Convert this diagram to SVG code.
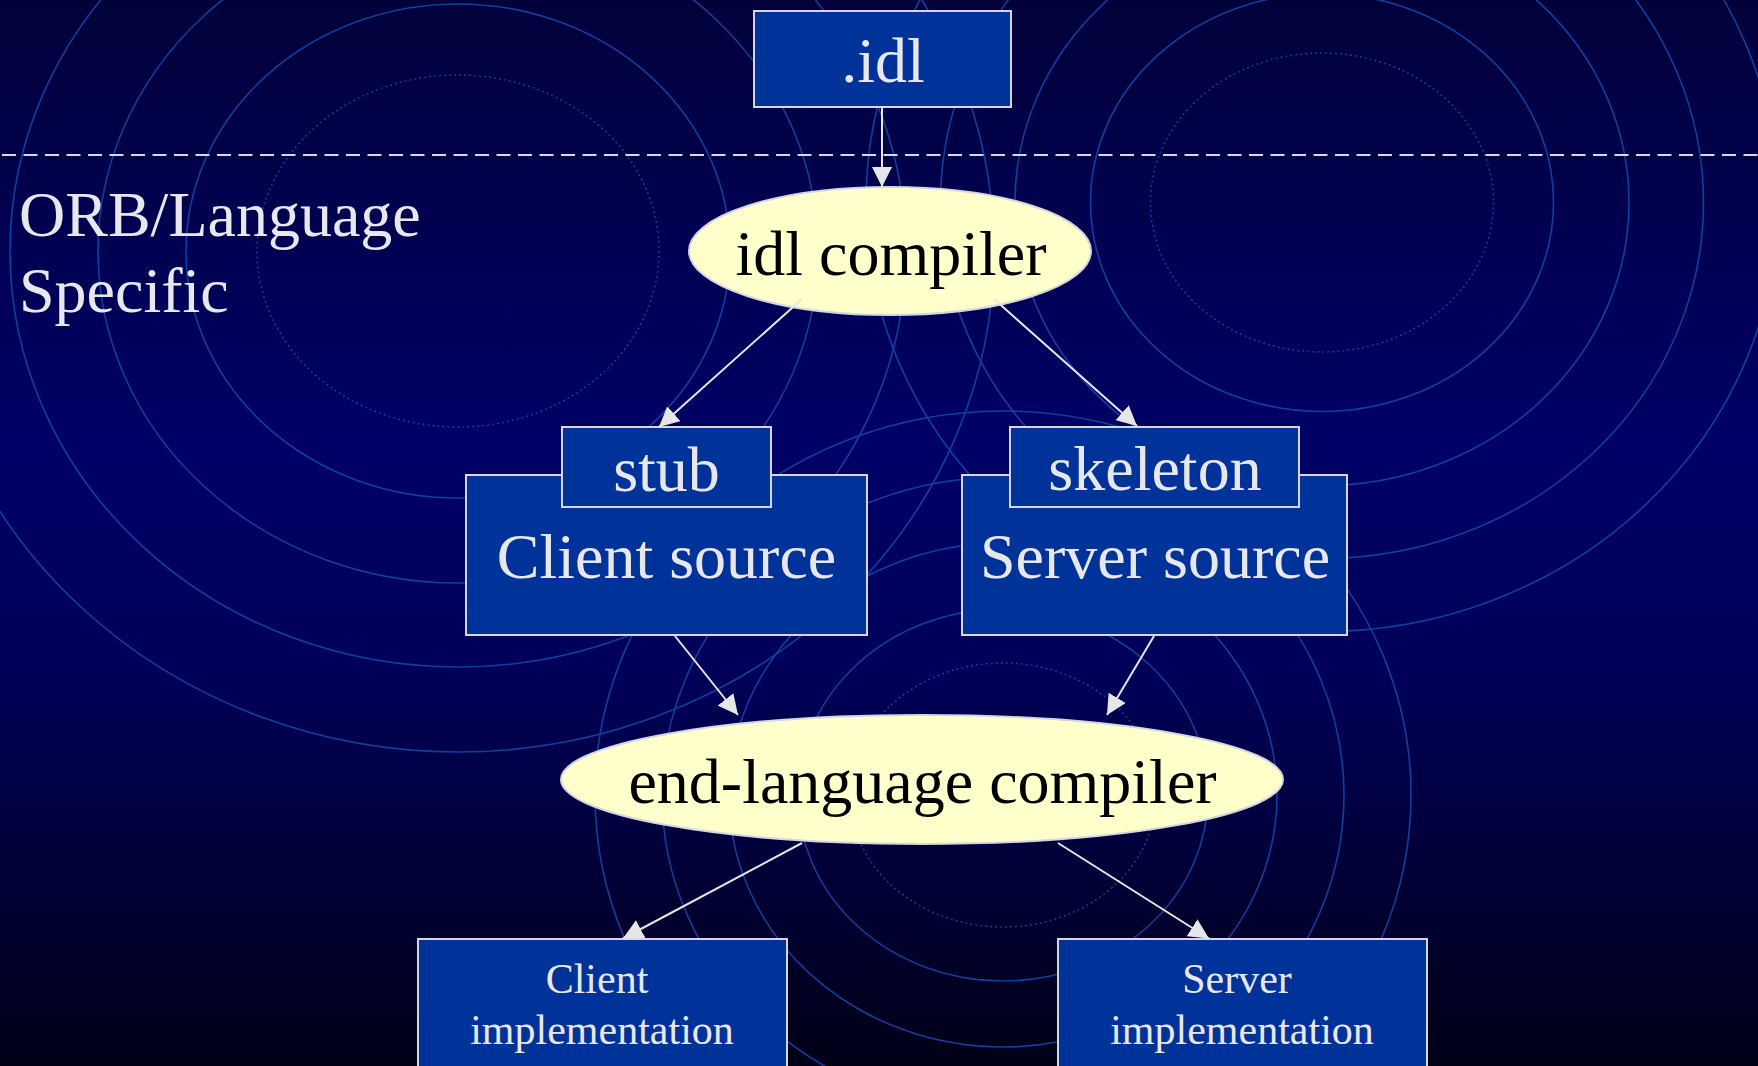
<svg xmlns="http://www.w3.org/2000/svg" width="1758" height="1066" viewBox="0 0 1758 1066">
  <defs>
    <linearGradient id="bg" x1="0" y1="0" x2="0" y2="1">
      <stop offset="0" stop-color="#01013a"/>
      <stop offset="0.42" stop-color="#000066"/>
      <stop offset="0.62" stop-color="#00005a"/>
      <stop offset="1" stop-color="#000016"/>
    </linearGradient>
    <marker id="ah" markerUnits="userSpaceOnUse" markerWidth="20" markerHeight="20" refX="20" refY="10" orient="auto">
      <path d="M0,0 L20,10 L0,20 z" fill="#e6e6e6"/>
    </marker>
    <style>
      .ring { fill: none; stroke: #0f3f9f; stroke-width: 1.6; }
      .dot { fill: none; stroke: #0f3f9f; stroke-width: 1.5; stroke-dasharray: 2 3; }
      .box { fill: #003399; stroke: #d6d6e2; stroke-width: 2; }
      .oval { fill: #ffffcc; stroke: #d6d6e2; stroke-width: 2; }
      .lt { font-family: "Liberation Serif", "Times New Roman", serif; fill: #e8e8ec; text-anchor: middle; }
      .dk { font-family: "Liberation Serif", "Times New Roman", serif; fill: #000000; text-anchor: middle; font-size: 64px; }
      .big { font-size: 64px; }
      .sm { font-size: 42px; }
      .edge { fill: none; stroke: #e6e6e6; stroke-width: 2; marker-end: url(#ah); }
    </style>
  </defs>

  <g id="background">
    <rect x="0" y="0" width="1758" height="1066" fill="url(#bg)"/>
    <g id="rings-left">
      <ellipse class="dot" cx="458" cy="251" rx="201" ry="176"/>
      <ellipse class="ring" cx="458" cy="251" rx="272" ry="247"/>
      <ellipse class="ring" cx="458" cy="251" rx="360" ry="332"/>
      <ellipse class="ring" cx="458" cy="251" rx="448" ry="416"/>
      <ellipse class="ring" cx="458" cy="251" rx="536" ry="501"/>
    </g>
    <g id="rings-right">
      <ellipse class="dot" cx="1322" cy="202.5" rx="171.5" ry="149.5"/>
      <ellipse class="ring" cx="1322" cy="202.5" rx="231.5" ry="209"/>
      <ellipse class="ring" cx="1322" cy="202.5" rx="307" ry="283"/>
      <ellipse class="ring" cx="1322" cy="202.5" rx="381.5" ry="356"/>
      <ellipse class="ring" cx="1322" cy="202.5" rx="456" ry="429"/>
    </g>
    <g id="rings-bottom">
      <ellipse class="dot" cx="1003" cy="795" rx="153" ry="132"/>
      <ellipse class="ring" cx="1003" cy="795" rx="205" ry="186"/>
      <ellipse class="ring" cx="1003" cy="795" rx="274" ry="252"/>
      <ellipse class="ring" cx="1003" cy="795" rx="341" ry="318"/>
      <ellipse class="ring" cx="1003" cy="795" rx="408" ry="384"/>
    </g>
    <line x1="2" y1="155" x2="1758" y2="155" stroke="#d8d8e2" stroke-width="2" stroke-dasharray="14 7.5"/>
    <text class="lt big" style="text-anchor:start" x="19" y="236">ORB/Language</text>
    <text class="lt big" style="text-anchor:start" x="19" y="312">Specific</text>
  </g>

  <g id="node-idl">
    <rect class="box" x="754" y="11" width="257" height="96"/>
    <text class="lt big" x="883" y="82">.idl</text>
  </g>

  <g id="node-idl-compiler">
    <ellipse class="oval" cx="890" cy="251" rx="201" ry="64"/>
    <text class="dk" x="891" y="275">idl compiler</text>
  </g>

  <g id="node-client-source">
    <rect class="box" x="466" y="475" width="401" height="160"/>
    <text class="lt big" x="666.5" y="578">Client source</text>
  </g>

  <g id="node-stub">
    <rect class="box" x="562" y="427" width="209" height="80"/>
    <text class="lt big" x="666.5" y="491">stub</text>
  </g>

  <g id="node-server-source">
    <rect class="box" x="962" y="475" width="385" height="160"/>
    <text class="lt big" x="1155" y="578">Server source</text>
  </g>

  <g id="node-skeleton">
    <rect class="box" x="1010" y="427" width="289" height="80"/>
    <text class="lt big" x="1155" y="490">skeleton</text>
  </g>

  <g id="node-end-language-compiler">
    <ellipse class="oval" cx="922" cy="779.5" rx="361" ry="64.5"/>
    <text class="dk" x="922.5" y="803">end-language compiler</text>
  </g>

  <g id="node-client-implementation">
    <rect class="box" x="418" y="939" width="369" height="140"/>
    <text class="lt sm" x="597" y="993">Client</text>
    <text class="lt sm" x="602" y="1044">implementation</text>
  </g>

  <g id="node-server-implementation">
    <rect class="box" x="1058" y="939" width="369" height="140"/>
    <text class="lt sm" x="1237" y="993">Server</text>
    <text class="lt sm" x="1242" y="1044">implementation</text>
  </g>

  <g id="connectors">
    <path class="edge" d="M882,107 L882,187"/>
    <path class="edge" d="M802,299 L659,427"/>
    <path class="edge" d="M994,299 L1137,426"/>
    <path class="edge" d="M675,636 L738,715"/>
    <path class="edge" d="M1154,636 L1107,715"/>
    <path class="edge" d="M802,843 L623,938.5"/>
    <path class="edge" d="M1058,843 L1209,938.5"/>
  </g>
</svg>
